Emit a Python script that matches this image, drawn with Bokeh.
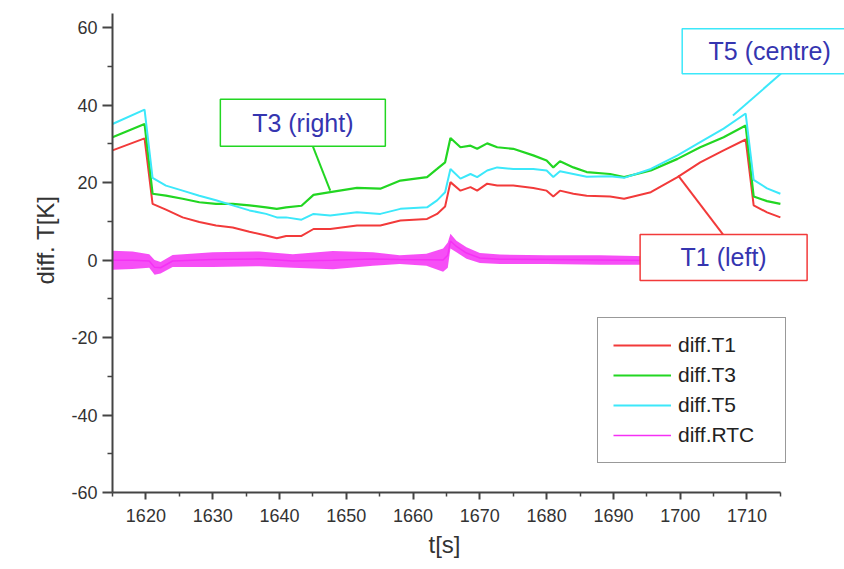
from bokeh.plotting import figure
from bokeh.models import Range1d, Legend, LegendItem, FixedTicker, Title
from bokeh.core.properties import value
from bokeh.embed import file_html
from bokeh.resources import INLINE

# ---------------- data ----------------
t = [1615, 1619.8, 1621.0, 1623, 1625.5, 1628, 1630.5, 1633, 1635.5, 1638, 1639.6,
     1641, 1643.3, 1645.1, 1647.6, 1651.6, 1655.1, 1658.1, 1662.1, 1663.6, 1664.8,
     1665.6, 1667.1, 1668.6, 1669.6, 1671.1, 1672.6, 1675.0, 1678.0, 1680.0, 1681.0,
     1682.0, 1684.0, 1686.0, 1689.5, 1691.6, 1695.6, 1699.6, 1703.0, 1706.5, 1709.8,
     1711.0, 1713, 1715]
diff_t1 = [28.3, 31.4, 14.5, 13.0, 11.0, 9.8, 8.9, 8.4, 7.3, 6.3, 5.6,
           6.2, 6.2, 8.0, 8.0, 8.9, 8.9, 10.2, 10.6, 11.9, 13.8,
           20.1, 17.9, 18.8, 17.9, 19.7, 19.2, 19.2, 18.6, 17.9, 16.4,
           17.9, 17.1, 16.6, 16.4, 15.8, 17.5, 21.4, 25.2, 28.3, 31.1,
           14.1, 12.3, 11.0]
diff_t3 = [31.7, 35.1, 17.1, 16.6, 15.8, 14.9, 14.5, 14.5, 14.1, 13.6, 13.2,
           13.6, 14.0, 16.8, 17.5, 18.6, 18.4, 20.5, 21.4, 23.5, 25.2,
           31.5, 29.1, 29.5, 28.7, 30.1, 29.1, 28.7, 27.0, 25.7, 23.9,
           25.5, 23.9, 22.7, 22.2, 21.4, 23.1, 26.1, 29.1, 31.7, 34.7,
           16.4, 15.2, 14.5]
diff_t5 = [35.1, 38.8, 21.2, 19.2, 17.9, 16.6, 15.4, 14.1, 12.8, 11.9, 11.0,
           11.0, 10.4, 11.9, 11.5, 12.3, 11.9, 13.2, 13.6, 15.4, 17.5,
           23.5, 21.0, 22.2, 21.4, 23.1, 23.9, 23.5, 23.5, 23.1, 21.4,
           22.9, 22.2, 21.5, 21.6, 21.2, 23.5, 27.0, 30.4, 33.9, 37.8,
           20.7, 18.5, 17.1]
# diff.RTC is a noisy band: upper / lower envelope
rtc_t = [1615, 1618, 1620.5, 1621.3, 1622.2, 1624, 1630, 1637, 1642, 1648, 1654,
         1658, 1662, 1664.5, 1665.2, 1665.6, 1666.5, 1668, 1670, 1673, 1680, 1688,
         1695, 1700]
rtc_hi = [2.4, 2.2, 1.5, 0.0, -0.5, 1.3, 2.0, 2.2, 1.5, 2.3, 2.0,
          1.2, 1.6, 3.0, 4.5, 6.8, 5.0, 3.3, 1.8, 1.4, 1.2, 1.2, 1.0, 1.0]
rtc_lo = [-2.5, -2.3, -2.0, -3.8, -3.5, -1.8, -1.8, -1.6, -2.0, -2.4, -1.5,
          -1.0, -1.5, -3.0, -2.0, 3.0, 2.0, 0.3, -0.8, -1.0, -1.0, -1.2, -1.2, -1.2]
rtc_mid = [(a + b) / 2 for a, b in zip(rtc_hi, rtc_lo)]

series_names = ["diff.T1", "diff.T3", "diff.T5", "diff.RTC"]
x_ticks = [1620, 1630, 1640, 1650, 1660, 1670, 1680, 1690, 1700, 1710]
x_minor = [1615, 1625, 1635, 1645, 1655, 1665, 1675, 1685, 1695, 1705, 1715]
y_ticks = [-60, -40, -20, 0, 20, 40, 60]
y_tick_labels = ["-60", "-40", "-20", "0", "20", "40", "60"]
y_minor = [-50, -30, -10, 10, 30, 50]

# callouts
call_text = ["T3 (right)", "T5 (centre)", "T1 (left)"]
call_x = [1643.5, 1713.4, 1706.5]
call_y = [35.4, 53.9, 0.65]
call_w = [165, 175, 167]
call_h = [47, 45, 46]
ptr_x0 = [1645.0, 1715.1, 1706.4]
ptr_y0 = [29.3, 48.1, 6.6]
ptr_x1 = [1647.6, 1707.9, 1699.7]
ptr_y1 = [17.9, 37.3, 21.8]

RED, GREEN, CYAN, MAG = "#f23a3a", "#22d622", "#3ce8fa", "#f530f5"
call_col = [GREEN, CYAN, RED]
FONT = "Liberation Sans"

p = figure(width=844, height=569, output_backend="svg", toolbar_location=None,
           x_range=Range1d(1615, 1724.6), y_range=Range1d(-60, 66.97),
           min_border_left=112, min_border_right=0, min_border_top=0,
           min_border_bottom=77)
p.outline_line_color = None
p.xgrid.grid_line_color = None
p.ygrid.grid_line_color = None

r1 = p.line(t, diff_t1, line_color=RED, line_width=2)
r3 = p.line(t, diff_t3, line_color=GREEN, line_width=2.2)
r5 = p.line(t, diff_t5, line_color=CYAN, line_width=2)
p.varea(x=rtc_t, y1=rtc_lo, y2=rtc_hi, fill_color=MAG, fill_alpha=0.85)
rm = p.line(rtc_t, rtc_mid, line_color=MAG, line_width=1.5)

p.segment(x0=ptr_x0, y0=ptr_y0, x1=ptr_x1, y1=ptr_y1, line_color=call_col, line_width=2)
p.rect(x=call_x, y=call_y, width=call_w, height=call_h, width_units="screen",
       height_units="screen", fill_color="white", line_color=call_col, line_width=1.5)
p.text(x=call_x, y=call_y, text=call_text, text_align="center", text_baseline="middle",
       text_font=value(FONT), text_font_size="25px", text_color="#3535b0")

for ax in (p.xaxis[0], p.yaxis[0]):
    ax.axis_line_color = "#444444"
    ax.axis_line_width = 2
    ax.major_tick_line_color = "#444444"
    ax.major_tick_line_width = 2
    ax.minor_tick_line_color = "#444444"
    ax.minor_tick_line_width = 1.5
    ax.major_tick_in = 0
    ax.minor_tick_in = 0
    ax.major_label_text_font = FONT
    ax.major_label_text_font_size = "18px"
    ax.major_label_text_color = "#333333"

p.xaxis.ticker = FixedTicker(ticks=x_ticks, minor_ticks=x_minor)
p.yaxis.ticker = FixedTicker(ticks=y_ticks, minor_ticks=y_minor)
p.yaxis.major_label_overrides = dict(zip(y_ticks, y_tick_labels))
p.xaxis.bounds = (1615, 1715)
p.yaxis.bounds = (-60, 63.6)
p.xaxis.major_tick_out = 7
p.xaxis.minor_tick_out = 4
p.yaxis.major_tick_out = 10
p.yaxis.minor_tick_out = 5
p.xaxis.major_label_standoff = 9
p.yaxis.major_label_standoff = 5

# axis titles, placed along the drawn axis extent
p.add_layout(Title(text="t[s]", align="left", offset=316, standoff=8,
                   text_font=FONT, text_font_size="24px", text_font_style="normal",
                   text_color="#333333"), "below")
p.add_layout(Title(text="diff. T[K]", align="left", offset=208, standoff=20,
                   text_font=FONT, text_font_size="24px", text_font_style="normal",
                   text_color="#333333"), "left")

legend = Legend(items=[LegendItem(label=series_names[0], renderers=[r1]),
                       LegendItem(label=series_names[1], renderers=[r3]),
                       LegendItem(label=series_names[2], renderers=[r5]),
                       LegendItem(label=series_names[3], renderers=[rm])],
                location=(485, 29), margin=0, padding=15, spacing=6,
                label_height=22, label_width=92, glyph_height=22, glyph_width=58,
                label_standoff=7,
                label_text_font=FONT, label_text_font_size="21px",
                label_text_color="#222222", border_line_color="#333333",
                border_line_width=1.5, background_fill_color="white",
                background_fill_alpha=1.0)
p.add_layout(legend)

open("out.html", "w").write(file_html(p, INLINE))
